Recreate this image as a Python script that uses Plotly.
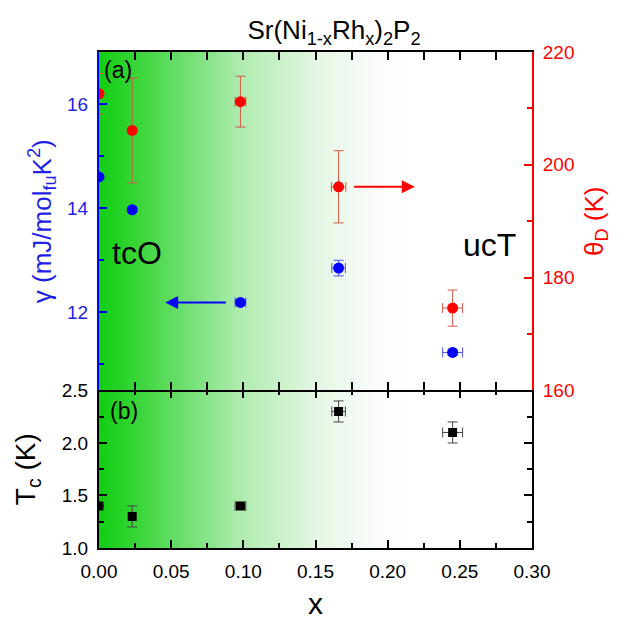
import plotly.graph_objects as go

# ---------------- data ----------------
x_vals = [0.0, 0.023, 0.098, 0.166, 0.245]

gamma = [14.60, 13.97, 12.19, 12.85, 11.23]          # mJ/mol_fu K^2
gamma_err = [0.0, 0.05, 0.05, 0.15, 0.05]
gamma_xerr = [0.0, 0.0, 0.0037, 0.0047, 0.0069]

theta_D = [212.6, 206.1, 211.2, 196.1, 174.6]        # K
theta_err = [3.6, 9.3, 4.5, 6.4, 3.2]
theta_xerr = [0.0, 0.0, 0.0037, 0.0050, 0.0069]

Tc = [1.40, 1.30, 1.40, 2.30, 2.10]                   # K
Tc_err = [0.0, 0.10, 0.02, 0.10, 0.10]
Tc_xerr = [0.0, 0.0, 0.0037, 0.0047, 0.0069]

x_ticks = [0.00, 0.05, 0.10, 0.15, 0.20, 0.25, 0.30]

# background gradient stops (x position -> shade)
grad_x = [0.0, 0.05, 0.10, 0.15, 0.20, 0.25, 0.30]

# arrows (tail -> head) in data coordinates
gamma_arrow = dict(tail=0.0889, head=0.0458, y=12.19)
theta_arrow = dict(tail=0.1757, head=0.2188, y=196.1)

BLUE = "#0000ff"
BLUE_T = "#1f1fe6"
RED = "#ff0000"
FONT = "Liberation Sans, Arial, sans-serif"

green_scale = [
    [0.0, "rgb(20,206,20)"],
    [0.05, "rgb(38,210,38)"],
    [0.17, "rgb(98,221,98)"],
    [0.33, "rgb(176,236,176)"],
    [0.50, "rgb(228,246,228)"],
    [0.64, "rgb(250,253,250)"],
    [0.72, "rgb(255,255,255)"],
    [1.0, "rgb(255,255,255)"],
]

fig = go.Figure()

# gradient backgrounds
for xa, ya, yr in [("x", "y", [1.0, 2.5]), ("x2", "y2", [10.5, 17.0])]:
    fig.add_trace(go.Heatmap(
        x=grad_x, y=yr, z=[grad_x, grad_x], zmin=0, zmax=0.3,
        colorscale=green_scale, zsmooth="best", showscale=False,
        hoverinfo="skip", xaxis=xa, yaxis=ya))

# gamma (blue)
fig.add_trace(go.Scatter(
    x=x_vals, y=gamma, mode="markers", xaxis="x2", yaxis="y2",
    marker=dict(symbol="circle", size=11, color=BLUE),
    error_y=dict(type="data", array=gamma_err, color="rgb(80,80,235)", thickness=1, width=5),
    error_x=dict(type="data", array=gamma_xerr, color="rgb(80,80,235)", thickness=1, width=5),
    showlegend=False))

# theta_D (red)
fig.add_trace(go.Scatter(
    x=x_vals, y=theta_D, mode="markers", xaxis="x2", yaxis="y3",
    marker=dict(symbol="circle", size=11, color=RED),
    error_y=dict(type="data", array=theta_err, color="rgb(210,90,70)", thickness=1, width=5),
    error_x=dict(type="data", array=theta_xerr, color="rgb(210,90,70)", thickness=1, width=5),
    showlegend=False))

# Tc (black squares)
fig.add_trace(go.Scatter(
    x=x_vals, y=Tc, mode="markers", xaxis="x", yaxis="y",
    marker=dict(symbol="square", size=9, color="black"),
    error_y=dict(type="data", array=Tc_err, color="rgb(70,70,70)", thickness=1, width=5),
    error_x=dict(type="data", array=Tc_xerr, color="rgb(70,70,70)", thickness=1, width=5),
    showlegend=False))

split = (547.5 - 390) / (547.5 - 51.7)

tickfont = dict(family=FONT, size=19, color="black")
xcommon = dict(range=[0, 0.30], tickvals=x_ticks, tickformat=".2f", automargin=False,
               ticks="inside", ticklen=8, tickwidth=1.5, tickcolor="black",
               minor=dict(dtick=0.025, tick0=0, ticks="inside", ticklen=5, tickwidth=1.5, tickcolor="black"),
               showline=True, linecolor="black", linewidth=2, mirror="allticks",
               showgrid=False, zeroline=False)

fig.update_layout(
    width=630, height=620,
    margin=dict(l=99, r=98, t=52, b=72),
    plot_bgcolor="white", paper_bgcolor="white",
    font=dict(family=FONT, size=19, color="black"),
    title=dict(text="Sr(Ni<sub>1-x</sub>Rh<sub>x</sub>)<sub>2</sub>P<sub>2</sub>", automargin=False,
               x=334 / 630, xanchor="center", y=1 - 30 / 620, yanchor="middle",
               font=dict(family=FONT, size=26, color="black")),
    xaxis=dict(**xcommon, anchor="y", tickfont=tickfont, ticklabelstandoff=5,
               title=dict(text="x", font=dict(family=FONT, size=30, color="black"), standoff=20)),
    xaxis2=dict(**xcommon, anchor="y2", matches="x", showticklabels=False),
    yaxis=dict(domain=[0, split], range=[1.0, 2.5], dtick=0.5, tick0=0, tickformat=".1f", automargin=False,
               ticks="inside", ticklen=8, tickwidth=1.5, tickcolor="black",
               minor=dict(dtick=0.25, tick0=0, ticks="inside", ticklen=5, tickwidth=1.5, tickcolor="black"),
               showline=True, linecolor="black", linewidth=2, mirror="ticks",
               showgrid=False, zeroline=False, tickfont=tickfont, ticklabelstandoff=5,
               title=dict(text="T<sub>c</sub> (K)", font=dict(family=FONT, size=28, color="black"), standoff=18)),
    yaxis2=dict(domain=[split, 1], range=[10.5, 17.0], dtick=2, tick0=0, anchor="x2", automargin=False,
                ticks="inside", ticklen=8, tickwidth=1.5, tickcolor=BLUE,
                minor=dict(dtick=1, tick0=0, ticks="inside", ticklen=5, tickwidth=1.5, tickcolor=BLUE),
                showline=True, linecolor=BLUE, linewidth=2, showgrid=False, zeroline=False,
                tickfont=dict(family=FONT, size=19, color=BLUE_T), ticklabelstandoff=5,
                title=dict(text="γ (mJ/mol<sub>fu</sub>K<sup>2</sup>)",
                           font=dict(family=FONT, size=26, color=BLUE_T), standoff=8)),
    yaxis3=dict(overlaying="y2", side="right", anchor="x2", range=[160, 220], dtick=20, tick0=0, automargin=False,
                ticks="inside", ticklen=8, tickwidth=1.5, tickcolor=RED,
                minor=dict(dtick=10, tick0=0, ticks="inside", ticklen=5, tickwidth=1.5, tickcolor=RED),
                showline=True, linecolor=RED, linewidth=2, showgrid=False, zeroline=False,
                tickfont=dict(family=FONT, size=19, color=RED), ticklabelstandoff=5,
                title=dict(text="θ<sub>D</sub> (K)", font=dict(family=FONT, size=26, color=RED), standoff=11)),
)

# arrows
fig.add_annotation(x=gamma_arrow["head"], y=gamma_arrow["y"], ax=gamma_arrow["tail"], ay=gamma_arrow["y"],
                   xref="x2", yref="y2", axref="x2", ayref="y2", text="", showarrow=True,
                   arrowhead=2, arrowsize=1.3, arrowwidth=2, arrowcolor=BLUE)
fig.add_annotation(x=theta_arrow["head"], y=theta_arrow["y"], ax=theta_arrow["tail"], ay=theta_arrow["y"],
                   xref="x2", yref="y3", axref="x2", ayref="y3", text="", showarrow=True,
                   arrowhead=2, arrowsize=1.3, arrowwidth=2, arrowcolor=RED)

# labels
lab = dict(family=FONT, color="black")
fig.add_annotation(text="(a)", x=0.007, y=0.963, xref="paper", yref="paper", xanchor="left", yanchor="middle",
                   showarrow=False, font=dict(**lab, size=23))
fig.add_annotation(text="(b)", x=0.021, y=0.277, xref="paper", yref="paper", xanchor="left", yanchor="middle",
                   showarrow=False, font=dict(**lab, size=23))
fig.add_annotation(text="tcO", x=0.025, y=0.594, xref="paper", yref="paper", xanchor="left", yanchor="middle",
                   showarrow=False, font=dict(**lab, size=32))
fig.add_annotation(text="ucT", x=0.903, y=0.610, xref="paper", yref="paper", xanchor="center", yanchor="middle",
                   showarrow=False, font=dict(**lab, size=32))

fig.write_html("out.html")
